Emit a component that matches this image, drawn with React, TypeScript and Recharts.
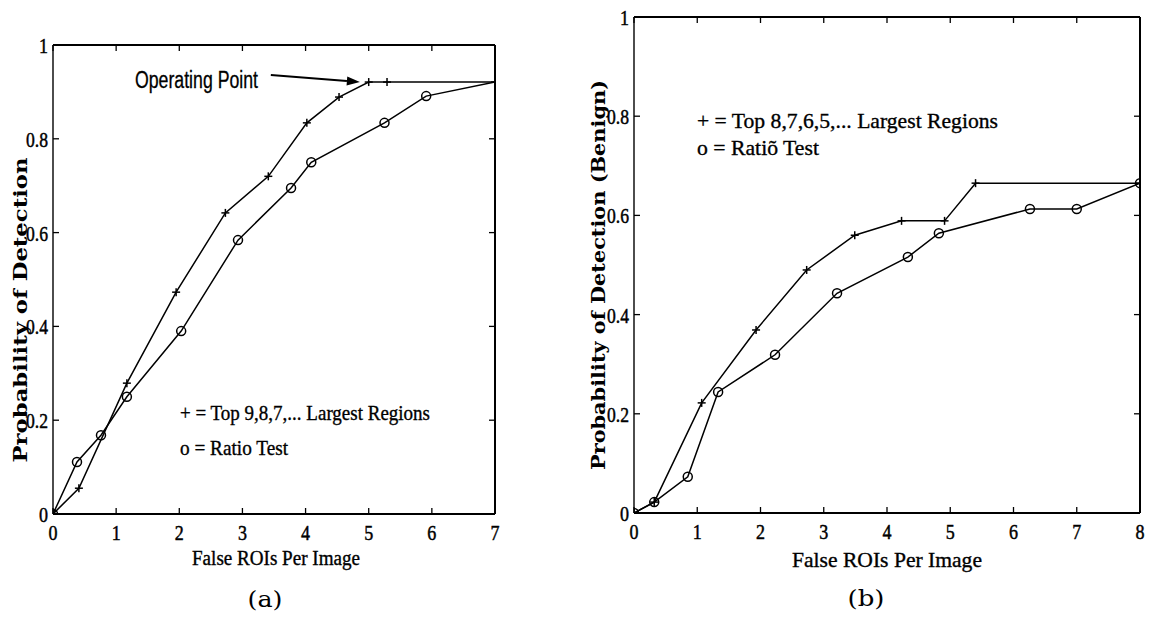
import React from 'react';
import { LineChart, Line, XAxis, YAxis, ReferenceLine } from 'recharts';

// ---------- data: chart (a) ----------
const xTicksA = [0, 1, 2, 3, 4, 5, 6, 7];
const topXA = [0, 0.41, 1.17, 1.95, 2.73, 3.41, 4.02, 4.53, 5.0, 5.29, 7];
const topYA = [0, 0.055, 0.279, 0.473, 0.642, 0.72, 0.834, 0.889, 0.921, 0.921, 0.921];
const ratioXA = [0, 0.38, 0.76, 1.17, 2.03, 2.93, 3.77, 4.09, 5.25, 5.91, 7];
const ratioYA = [0, 0.111, 0.168, 0.25, 0.39, 0.584, 0.695, 0.75, 0.834, 0.891, 0.921];

// ---------- data: chart (b) ----------
const xTicksB = [0, 1, 2, 3, 4, 5, 6, 7, 8];
const topXB = [0, 0.32, 1.07, 1.93, 2.73, 3.49, 4.23, 4.91, 5.4, 8];
const topYB = [0, 0.022, 0.222, 0.369, 0.49, 0.56, 0.589, 0.589, 0.665, 0.665];
const ratioXB = [0, 0.32, 0.85, 1.33, 2.23, 3.21, 4.33, 4.82, 6.26, 7.0, 8];
const ratioYB = [0, 0.022, 0.073, 0.244, 0.319, 0.443, 0.516, 0.564, 0.613, 0.613, 0.665];

const yTicks = [0, 0.2, 0.4, 0.6, 0.8, 1];

// annotation arrow (data units of chart a)
const arrowStart = { x: 3.45, y: 0.936 };
const arrowEnd = { x: 4.86, y: 0.921 };

const toPts = (xs: number[], ys: number[]) => xs.map((x, i) => ({ x, y: ys[i] }));
const topA = toPts(topXA, topYA);
const ratioA = toPts(ratioXA, ratioYA);
const topB = toPts(topXB, topYB);
const ratioB = toPts(ratioXB, ratioYB);

const SERIF = '"Liberation Serif", "Times New Roman", serif';
const TICK_FONT = 22;

const labelLen = (s: string) => {
  let n = 0;
  for (const c of s) n += c === '.' ? 4 : 9;
  return n;
};

const fmt = (v: number) => String(v);

const BottomTick = (p: any) => {
  const { x, y, payload } = p;
  const s = fmt(payload.value);
  return (
    <g>
      <line x1={x} y1={y} x2={x} y2={y - 6} stroke="#000" strokeWidth={1.3} />
      <text x={x} y={y + 26} textAnchor="middle" fontFamily={SERIF} fontSize={TICK_FONT} fill="#000"
        stroke="#000" strokeWidth={0.5} textLength={labelLen(s)} lengthAdjust="spacingAndGlyphs">{s}</text>
    </g>
  );
};
const TopTick = (p: any) => {
  const { x, y } = p;
  return <line x1={x} y1={y} x2={x} y2={y + 6} stroke="#000" strokeWidth={1.3} />;
};
const LeftTick = (p: any) => {
  const { x, y, payload } = p;
  const s = fmt(payload.value);
  return (
    <g>
      <line x1={x} y1={y} x2={x + 6} y2={y} stroke="#000" strokeWidth={1.3} />
      <text x={x - 5} y={y + 8} textAnchor="end" fontFamily={SERIF} fontSize={TICK_FONT} fill="#000"
        stroke="#000" strokeWidth={0.5} textLength={labelLen(s)} lengthAdjust="spacingAndGlyphs">{s}</text>
    </g>
  );
};
const RightTick = (p: any) => {
  const { x, y } = p;
  return <line x1={x} y1={y} x2={x - 6} y2={y} stroke="#000" strokeWidth={1.3} />;
};

const PlusDot = (p: any) => {
  const { cx, cy, index } = p;
  if (cx == null || cy == null) return <g key={`p${index}`} />;
  return (
    <g key={`p${index}`}>
      <line x1={cx - 4} y1={cy} x2={cx + 4} y2={cy} stroke="#000" strokeWidth={1.5} />
      <line x1={cx} y1={cy - 4} x2={cx} y2={cy + 4} stroke="#000" strokeWidth={1.5} />
    </g>
  );
};
const makeCircleDot = (skipX: number | null) => (p: any) => {
  const { cx, cy, index, payload } = p;
  if (cx == null || cy == null || (skipX !== null && payload && payload.x === skipX)) return <g key={`c${index}`} />;
  return <circle key={`c${index}`} cx={cx} cy={cy} r={4.5} fill="none" stroke="#000" strokeWidth={1.5} />;
};

const ArrowShape = (p: any) => {
  const { x1, y1, x2, y2 } = p;
  const dx = x2 - x1, dy = y2 - y1;
  const L = Math.sqrt(dx * dx + dy * dy) || 1;
  const ux = dx / L, uy = dy / L;
  const hl = 13, hw = 4.5;
  const bx = x2 - ux * hl, by = y2 - uy * hl;
  const pts = `${x2},${y2} ${bx - uy * hw},${by + ux * hw} ${bx + uy * hw},${by - ux * hw}`;
  return (
    <g>
      <line x1={x1} y1={y1} x2={bx} y2={by} stroke="#000" strokeWidth={2.2} />
      <polygon points={pts} fill="#000" />
    </g>
  );
};

const axisLineStyle = { stroke: '#000', strokeWidth: 2 };

function Panel(props: {
  width: number; height: number; margin: any; xMax: number; xTicks: number[];
  top: any[]; ratio: any[]; skipRatioX: number | null; arrow?: boolean;
}) {
  const { width, height, margin, xMax, xTicks, top, ratio, skipRatioX, arrow } = props;
  return (
    <LineChart width={width} height={height} margin={margin} style={{ overflow: 'visible' }}>
      <XAxis xAxisId="b" type="number" dataKey="x" domain={[0, xMax]} ticks={xTicks} interval={0}
        height={1} tickSize={0} tickMargin={0} tickLine={false} axisLine={axisLineStyle}
        tick={(p: any) => <BottomTick {...p} />} allowDataOverflow />
      <XAxis xAxisId="t" orientation="top" type="number" dataKey="x" domain={[0, xMax]} ticks={xTicks} interval={0}
        height={1} tickSize={0} tickMargin={0} tickLine={false} axisLine={axisLineStyle}
        tick={(p: any) => <TopTick {...p} />} allowDataOverflow />
      <YAxis yAxisId="l" type="number" domain={[0, 1]} ticks={yTicks} interval={0}
        width={1} tickSize={0} tickMargin={0} tickLine={false} axisLine={{ stroke: '#000', strokeWidth: 1.4 }}
        tick={(p: any) => <LeftTick {...p} />} allowDataOverflow />
      <YAxis yAxisId="r" orientation="right" type="number" domain={[0, 1]} ticks={yTicks} interval={0}
        width={1} tickSize={0} tickMargin={0} tickLine={false} axisLine={axisLineStyle}
        tick={(p: any) => <RightTick {...p} />} allowDataOverflow />
      <Line xAxisId="b" yAxisId="l" data={top} dataKey="y" type="linear" stroke="#000" strokeWidth={1.5}
        dot={PlusDot} activeDot={false} isAnimationActive={false} />
      <Line xAxisId="b" yAxisId="l" data={ratio} dataKey="y" type="linear" stroke="#000" strokeWidth={1.5}
        dot={makeCircleDot(skipRatioX)} activeDot={false} isAnimationActive={false} />
      {arrow ? (
        <ReferenceLine xAxisId="b" yAxisId="l" segment={[arrowStart, arrowEnd]} ifOverflow="visible"
          shape={ArrowShape} />
      ) : null}
    </LineChart>
  );
}

export default function App() {
  const txt = { fontFamily: SERIF, fill: '#000', stroke: '#000', strokeWidth: 0.35 } as const;
  return (
    <div style={{ position: 'absolute', left: 0, top: 0, width: 1150, height: 619, background: '#fff' }}>
      <div style={{ position: 'absolute', left: 0, top: 0 }}>
        <Panel width={540} height={619} margin={{ top: 44, left: 52, right: 44, bottom: 104 }}
          xMax={7} xTicks={xTicksA} top={topA} ratio={ratioA} skipRatioX={7} arrow />
      </div>
      <div style={{ position: 'absolute', left: 570, top: 0 }}>
        <Panel width={580} height={619} margin={{ top: 16, left: 63, right: 9, bottom: 105 }}
          xMax={8} xTicks={xTicksB} top={topB} ratio={ratioB} skipRatioX={null} />
      </div>
      <svg width={1150} height={619} style={{ position: 'absolute', left: 0, top: 0, pointerEvents: 'none' }}>
        {/* chart (a) texts */}
        <text x={135} y={88} fontFamily='"Liberation Sans", Arial, sans-serif' fontSize={23} fill="#000"
          stroke="#000" strokeWidth={0.3} textLength={123} lengthAdjust="spacingAndGlyphs">Operating Point</text>
        <text transform="translate(27,310) rotate(-90)" textAnchor="middle" fontFamily='"DejaVu Serif", serif'
          fontWeight="bold" fontSize={18} fill="#000" textLength={305} lengthAdjust="spacingAndGlyphs">Probability of Detection</text>
        <text x={276} y={565} textAnchor="middle" {...txt} fontSize={20} textLength={168}
          lengthAdjust="spacingAndGlyphs">False ROIs Per Image</text>
        <text x={180} y={420} {...txt} fontSize={21} textLength={250}
          lengthAdjust="spacingAndGlyphs">+ = Top 9,8,7,... Largest Regions</text>
        <text x={180} y={455} {...txt} fontSize={21} textLength={108}
          lengthAdjust="spacingAndGlyphs">o = Ratio Test</text>
        <text x={265} y={607} textAnchor="middle" fontFamily='"DejaVu Serif", serif' fontSize={22} fill="#000"
          textLength={35} lengthAdjust="spacingAndGlyphs">(a)</text>
        {/* chart (b) texts */}
        <text transform="translate(605,275) rotate(-90)" textAnchor="middle" fontFamily='"DejaVu Serif", serif'
          fontWeight="bold" fontSize={18} fill="#000" textLength={390} lengthAdjust="spacingAndGlyphs">Probability of Detection (Benign)</text>
        <text x={887} y={567} textAnchor="middle" {...txt} fontSize={21} textLength={190}
          lengthAdjust="spacingAndGlyphs">False ROIs Per Image</text>
        <text x={697} y={128} {...txt} fontSize={22} textLength={301}
          lengthAdjust="spacingAndGlyphs">+ = Top 8,7,6,5,... Largest Regions</text>
        <text x={697} y={155} {...txt} fontSize={22} textLength={122}
          lengthAdjust="spacingAndGlyphs">o = Ratiõ Test</text>
        <text x={866} y={606} textAnchor="middle" fontFamily='"DejaVu Serif", serif' fontSize={22} fill="#000"
          textLength={37} lengthAdjust="spacingAndGlyphs">(b)</text>
      </svg>
    </div>
  );
}
